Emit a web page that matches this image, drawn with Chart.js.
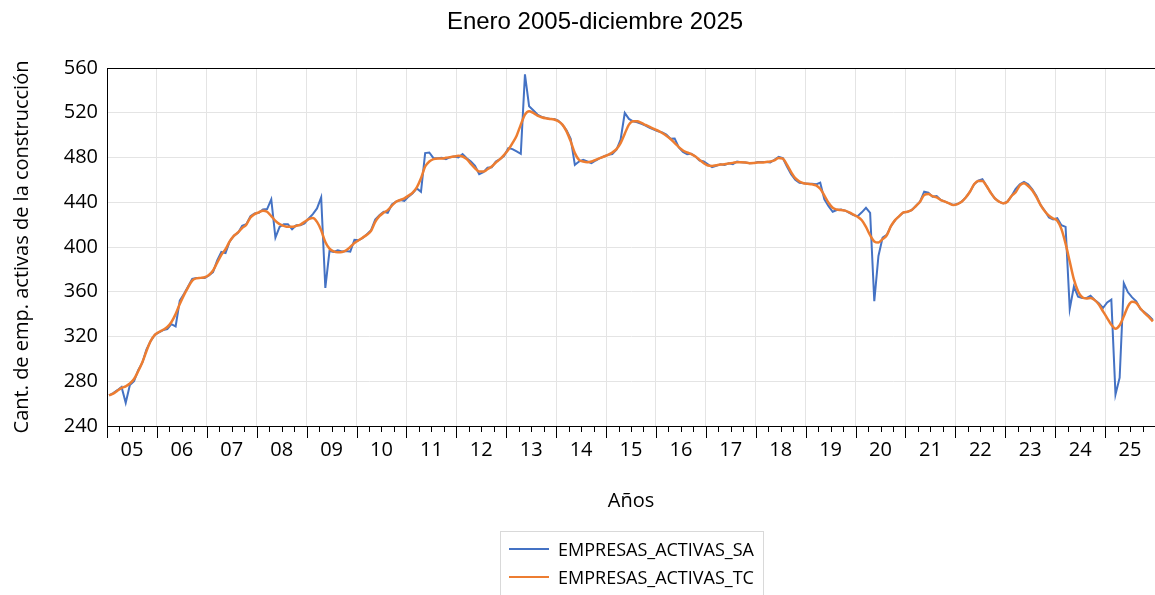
<!DOCTYPE html>
<html>
<head>
<meta charset="utf-8">
<script src="https://cdn.jsdelivr.net/npm/chart.js@4.4.1/dist/chart.umd.min.js"></script>
<style>
  html, body { margin: 0; padding: 0; background: #fff; }
  #wrap { position: relative; width: 1155px; height: 595px; overflow: hidden; }
  #legend {
    position: absolute; left: 500px; top: 531px; width: 264px; height: 80px;
    border: 1px solid #d9d9d9; box-sizing: border-box; padding-top: 3px;
    font-family: "Open Sans"; font-size: 18px; color: #000; white-space: nowrap;
  }
  .item { display: flex; align-items: center; height: 28px; }
  .swatch { flex: 0 0 40px; margin: 0 9px 0 8px; }
</style>
</head>
<body>
<div id="wrap">
  <canvas id="chart" width="1155" height="595"></canvas>
  <div id="legend"></div>
</div>
<script>
// tick labels for the x axis (one per year, 2005-2025)
const yearLabels = ['05', '06', '07', '08', '09', '10', '11', '12', '13', '14', '15',
                    '16', '17', '18', '19', '20', '21', '22', '23', '24', '25'];

// monthly values, jan 2005 - dec 2025
const empresasSA = [
  267.3, 269.5, 272, 274.8, 260.7, 276.6, 280, 290, 296.6, 308.6, 316, 321.5,
  323.6, 325.7, 326.6, 331, 329, 352, 358, 364.6, 371.5, 372.4, 372.4, 372.4,
  374.5, 377.5, 388, 395.5, 394.6, 405, 410, 412.6, 418.9, 420.4, 427.6, 430,
  430.6, 433.6, 433.9, 442.5, 408.4, 418, 420.4, 420.4, 415.9, 419.5, 419.5, 421,
  425.5, 429.4, 434.5, 444.3, 363.4, 396.4, 395.5, 397, 396, 396.4, 395.8, 406.5,
  406, 408, 411.5, 415, 424.6, 428.5, 431.5, 430.6, 438, 440.5, 442, 441.3,
  445, 448, 452.4, 449.4, 483.9, 484.5, 479.4, 479.4, 479.7, 478.5, 480.3, 480.9,
  480, 483, 479.4, 476.4, 472.5, 465, 466.8, 470.8, 471.3, 476.4, 478.5, 481.5,
  488.4, 487.5, 485.4, 483.3, 554.3, 525.8, 522.2, 518.4, 516.3, 515.4, 514.5, 514.5,
  513, 509.4, 504.3, 496.8, 473.4, 476.4, 477.9, 476.4, 474.9, 477.3, 479.4, 480.9,
  482.4, 483, 486.9, 495.9, 519.8, 514.5, 512.4, 511.5, 510, 508.5, 506.4, 504.9,
  503.4, 502.5, 500.4, 496.8, 497, 489, 485, 483, 483.3, 480.9, 477.3, 476.4,
  474, 471.3, 472.5, 474, 473.4, 474.9, 474, 476.4, 475.8, 475.5, 474.9, 475,
  476, 476, 476, 475.5, 478, 480.5, 479.5, 472, 465, 460, 457.5, 457,
  456.5, 456.5, 456, 457.5, 442.5, 436.5, 431.5, 433, 433.5, 432.5, 430.5, 428.5,
  427.5, 431, 435, 430.6, 351.5, 392, 408.4, 410.8, 418.6, 424, 427.6, 430.9,
  431.5, 433, 436.6, 440.5, 449.4, 448.5, 444.9, 445.5, 442, 440.5, 439, 437.5,
  438.4, 440.5, 444.3, 449.4, 456, 459.3, 460.5, 454.5, 448.5, 443.4, 440.5, 439,
  440.5, 445.6, 452, 456, 458.1, 456, 451.5, 445.5, 437.5, 432.4, 426.4, 424.6,
  425.8, 419.5, 418, 344.6, 364.6, 355.6, 354.4, 354.4, 356.5, 352.6, 349.7, 345.5,
  350.5, 353, 268.2, 283.2, 367.6, 359.5, 355, 351.4, 344.6, 341.6, 338.6, 334.7
];

const empresasTC = [
  267.3, 269, 271.5, 274, 275.5, 278, 282, 289, 297, 307, 316, 321.5,
  324, 326, 328.5, 333, 340, 349, 357, 364, 370, 372, 372.4, 373,
  375, 379, 386, 393, 398, 405, 410, 413, 417, 420, 426.4, 429.4,
  431, 432.4, 431.5, 427.6, 423.4, 420.4, 418.9, 418, 418, 418.9, 420, 422.5,
  424.9, 426, 422.5, 415, 404.5, 398.5, 396, 395.2, 395.5, 397, 400, 403.6,
  406, 408.5, 411, 414.4, 422.5, 427.6, 430.6, 433, 436.9, 440.5, 442, 443.5,
  445.9, 448.6, 453.3, 461.4, 471.9, 476.4, 478.5, 479, 479, 479.7, 480.3, 480.9,
  481.5, 480.9, 478.5, 474.3, 470.4, 467.4, 467.4, 469.5, 471.9, 475.5, 478.5, 482.4,
  486.9, 492.9, 499.5, 509.4, 518.4, 521.4, 519.8, 517.5, 516, 515, 514.5, 513.9,
  512.4, 509.4, 503.4, 494.4, 483.9, 477.9, 476.4, 475.8, 476.4, 477.9, 479.4, 480.9,
  482.4, 484.5, 487.5, 492.9, 501.3, 509.4, 512.5, 512.4, 510.9, 509.1, 507.3, 505.5,
  504, 501.9, 499.5, 496.5, 492.9, 489.3, 486.3, 484.5, 483, 480.9, 477.9, 474.9,
  472.8, 472.5, 473.1, 473.7, 474, 474.6, 475.2, 475.8, 475.8, 475.5, 474.9, 475,
  475.5, 475.5, 476, 476.5, 477.5, 479.5, 479, 473.5, 467, 461.5, 458.5, 457,
  456.5, 456, 455, 452, 446, 439.5, 435, 433.5, 433, 432.5, 431, 429,
  427, 423.9, 418, 410.5, 405, 404, 407, 410.5, 418.6, 424, 427.6, 430.9,
  431.5, 433, 436.6, 440.5, 446.4, 447.3, 445.5, 444.3, 442, 440.5, 439, 437.5,
  438.4, 440.5, 444.3, 449.4, 456, 459, 459, 454.5, 448.5, 443.4, 440.5, 439,
  440.5, 445.6, 449, 455, 457, 454.5, 450.5, 444.5, 437.5, 432, 428, 425.5,
  423.5, 416, 403, 387, 371, 360.5, 355, 354, 354.4, 352.5, 348.5, 342.5,
  336.5, 330.5, 327, 330, 338, 347, 351, 350, 345, 341, 337.5, 333.5
];

const FONT = 'Open Sans';
const GRID = '#e4e4e4';

// month i sits in the middle of its slot on a 0..252 month axis
const toPoints = arr => arr.map((v, i) => ({ x: i + 0.5, y: v }));

// frame top line, monthly-axis tick marks and the title
const extras = {
  id: 'extras',
  afterDraw(chart) {
    const { ctx, chartArea: a } = chart;
    const x = chart.scales.x;
    ctx.save();
    ctx.strokeStyle = '#000';
    ctx.lineWidth = 1;
    ctx.beginPath();
    ctx.moveTo(a.left, a.top + 0.5);
    ctx.lineTo(a.right, a.top + 0.5);
    x.ticks.forEach(t => {
      const px = Math.round(x.getPixelForValue(t.value)) + 0.5;
      ctx.moveTo(px, a.bottom);
      ctx.lineTo(px, a.bottom + (t.value % 12 === 0 ? 12 : 6));
    });
    ctx.stroke();
    ctx.fillStyle = '#000';
    ctx.font = '24px "Liberation Sans"';
    ctx.textAlign = 'center';
    ctx.textBaseline = 'middle';
    ctx.fillText('Enero 2005-diciembre 2025', 595, 22);
    ctx.restore();
  }
};

function draw() {
  const chart = new Chart(document.getElementById('chart'), {
    type: 'line',
    data: {
      datasets: [
        {
          label: 'EMPRESAS_ACTIVAS_SA',
          data: toPoints(empresasSA),
          borderColor: '#4472C4',
          borderWidth: 2,
          pointRadius: 0,
          tension: 0,
          order: 2
        },
        {
          label: 'EMPRESAS_ACTIVAS_TC',
          data: toPoints(empresasTC),
          borderColor: '#ED7D31',
          borderWidth: 2.5,
          pointRadius: 0,
          cubicInterpolationMode: 'monotone',
          order: 1
        }
      ]
    },
    options: {
      responsive: false,
      animation: false,
      layout: { padding: { top: 68, right: 0, bottom: 82, left: 0 } },
      plugins: {
        legend: { display: false },
        tooltip: { enabled: false },
        title: { display: false }
      },
      scales: {
        x: {
          type: 'linear',
          min: 0,
          max: 252,
          afterBuildTicks: s => {
            s.ticks = [];
            for (let v = 0; v <= 252; v += 3) s.ticks.push({ value: v });
          },
          afterFit: s => { s.paddingLeft = 0; s.paddingRight = 0; },
          ticks: {
            autoSkip: false,
            maxRotation: 0,
            padding: 12,
            color: '#000',
            font: { family: FONT, size: 20 },
            callback: v => (v % 12 === 6 ? yearLabels[(v - 6) / 12] : '')
          },
          grid: {
            drawTicks: false,
            color: c => (c.tick && c.tick.value % 12 === 0 && c.tick.value > 0 && c.tick.value < 252) ? GRID : 'rgba(0,0,0,0)'
          },
          border: { color: '#000', width: 1 },
          title: {
            display: true,
            text: 'Años',
            color: '#000',
            font: { family: FONT, size: 20 },
            padding: { top: 15, bottom: 0 }
          }
        },
        y: {
          min: 240,
          max: 560,
          afterFit: s => { s.width = 107; },
          ticks: {
            stepSize: 40,
            padding: 9,
            color: '#000',
            font: { family: FONT, size: 20 }
          },
          grid: { drawTicks: false, color: GRID },
          border: { color: '#000', width: 1 },
          title: {
            display: true,
            text: 'Cant. de emp. activas de la construcción',
            color: '#000',
            font: { family: FONT, size: 20 },
            padding: { top: 10, bottom: 4 }
          }
        }
      }
    },
    plugins: [extras]
  });

  // html legend, stacked like the original
  const legend = document.getElementById('legend');
  chart.data.datasets.forEach(ds => {
    const item = document.createElement('div');
    item.className = 'item';
    const sw = document.createElement('span');
    sw.className = 'swatch';
    sw.style.borderTop = '2px solid ' + ds.borderColor;
    item.appendChild(sw);
    item.appendChild(document.createTextNode(ds.label));
    legend.appendChild(item);
  });
}

document.fonts.load('20px "Open Sans"').then(draw, draw);
</script>
</body>
</html>
